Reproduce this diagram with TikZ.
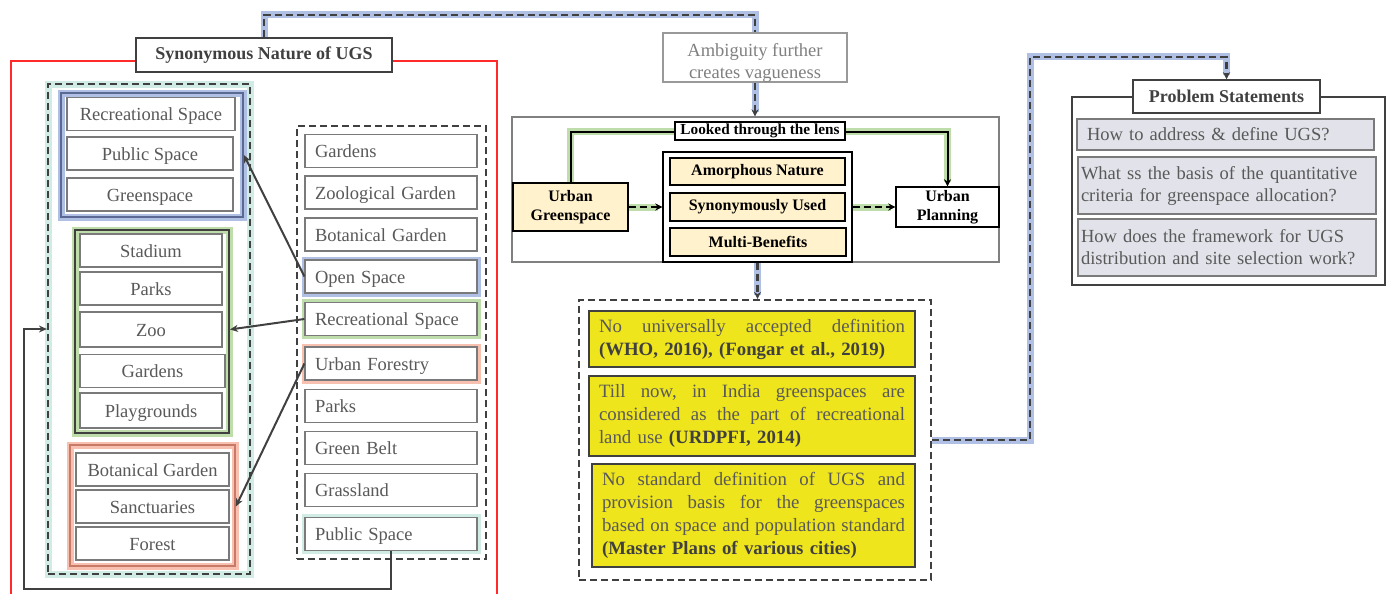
\documentclass[tikz,border=0pt]{standalone}
\usepackage{fontspec}
\setmainfont{Liberation Serif}
\usetikzlibrary{arrows.meta}
\definecolor{txt}{HTML}{595959}
\definecolor{dgray}{HTML}{404040}
\definecolor{itemc}{HTML}{7A7A7A}
\definecolor{redc}{HTML}{FF2B2B}
\definecolor{blueglow}{HTML}{8EA5DA}
\definecolor{greenglow}{HTML}{A3CF86}
\definecolor{redglow}{HTML}{F3A58E}
\definecolor{tealglow}{HTML}{BDE3DA}
\definecolor{lyellow}{HTML}{FFF2CC}
\definecolor{yelfill}{HTML}{EFE51C}
\definecolor{qfill}{HTML}{E2E3EA}
\definecolor{ambtxt}{HTML}{808080}
\definecolor{bluebord}{HTML}{5A6894}
\definecolor{redbord}{HTML}{C97A66}
\newcommand\fsz[2]{\fontsize{#1}{#2}\selectfont}
\newcommand\jl[2]{\leavevmode\hbox to #1{#2}}
\begin{document}
\begin{tikzpicture}[x=1pt,y=-1pt,
  item/.style={draw=itemc, line width=1.1pt, fill=white, text=txt, font=\fsz{18.5}{22}, inner sep=0pt, minimum height=33pt, text height=13pt, text depth=0pt},
  litem/.style={item, minimum width=#1},
  ritem/.style={item, text width=152pt, align=left, inner xsep=10pt},
  grp/.style={draw=#1, line width=1.8pt},
  glow/.style={preaction={draw=#1, line width=7pt, draw opacity=0.7, solid}},
  dbox/.style={draw=dgray, line width=2.2pt, dash pattern=on 7pt off 4pt},
  conn/.style={draw=dgray, line width=2pt, -{Stealth[length=8pt,width=7pt]}},
  dline/.style={draw=dgray, line width=2.4pt, dash pattern=on 7pt off 4pt},
  dconn/.style={dline, -{Stealth[length=7pt,width=7pt]}},
  ybox/.style={draw=dgray, line width=1.1pt, fill=yelfill, text=txt, font=\fsz{18.8}{23}, align=left, inner sep=0pt},
  mbox/.style={draw=black, line width=1.4pt, fill=lyellow, font=\bfseries\fsz{16}{19}, inner sep=0pt},
  qbox/.style={draw=itemc, line width=1.1pt, fill=qfill, text=txt, font=\fsz{18.5}{22}, align=left, inner ysep=0pt, anchor=center}
]
\useasboundingbox (0,0) rectangle (1389,594);

% ---------------- left part ----------------
\draw[redc, line width=1.3pt] (11,594) -- (11,61) -- (497,61) -- (497,594);
\node[draw=dgray, line width=1.5pt, fill=white, text=dgray, font=\bfseries\fsz{18}{22}, minimum width=256pt, minimum height=34pt, inner sep=0pt] (title) at (264,55) {Synonymous Nature of UGS};

\node[dbox, glow=tealglow, minimum width=202pt, minimum height=490pt] (outer) at (149,329) {};
\node[grp=bluebord, glow=blueglow, minimum width=182pt, minimum height=124pt] (bgrp) at (152,155) {};
\node[grp=dgray, glow=greenglow, minimum width=154pt, minimum height=203pt] (ggrp) at (152,331.5) {};
\node[grp=redbord, glow=redglow, minimum width=165pt, minimum height=121pt] (rgrp) at (152.5,505.5) {};

\node[litem=168pt] (rs1) at (151,114) {Recreational Space};
\node[litem=166pt] (ps1) at (150,153.5) {Public Space};
\node[litem=166pt] (gs1) at (150,194.5) {Greenspace};

\node[litem=142pt] (stad) at (151,250.5) {Stadium};
\node[litem=142pt] (parks1) at (151,288.5) {Parks};
\node[litem=142pt, minimum height=35pt] (zoo) at (151,329.5) {Zoo};
\node[litem=145pt] (gard1) at (152.5,371) {Gardens};
\node[litem=142pt, minimum height=35pt] (play) at (151,410.5) {Playgrounds};

\node[litem=153pt] (bot1) at (152.5,469.5) {Botanical Garden};
\node[litem=153pt] (sanct) at (152.5,506.5) {Sanctuaries};
\node[litem=153pt] (forest) at (152.5,543.5) {Forest};

\node[dbox, minimum width=189pt, minimum height=433pt] (rbox) at (391.5,342.5) {};
\node[ritem] (r-gard) at (391,151) {Gardens};
\node[ritem] (r-zoo) at (391,192.5) {Zoological Garden};
\node[ritem] (r-bot) at (391,234.5) {Botanical Garden};
\node[ritem, glow=blueglow] (r-open) at (391,276.5) {Open Space};
\node[ritem, glow=greenglow] (r-rec) at (391,319) {Recreational Space};
\node[ritem, glow=redglow] (r-urb) at (391,363.5) {Urban Forestry};
\node[ritem] (r-parks) at (391,406) {Parks};
\node[ritem] (r-belt) at (391,448) {Green Belt};
\node[ritem] (r-grass) at (391,490) {Grassland};
\node[ritem, glow=tealglow] (r-pub) at (391,534) {Public Space};

\draw[conn] (r-open.west) -- (bgrp.east);
\draw[conn] (r-rec.west) -- (zoo.east -| ggrp.east);
\draw[conn] (r-urb.west) -- (sanct.east -| rgrp.east);
\coordinate (lb) at (24,589);
\draw[conn] (r-pub.south) |- (lb) |- (outer.west);

% ---------------- middle part ----------------
\node[draw=ambtxt!80, line width=1.1pt, fill=white, minimum width=184pt, minimum height=49pt, inner sep=0pt] (amb) at (755,57.5) {};
\node[text=ambtxt, font=\fsz{18.5}{22}, align=center, inner sep=0pt] (ambt) at (755,63) {Ambiguity further\\creates vagueness};
\coordinate (tc) at (264,15);
\draw[dline, glow=blueglow] (title.north) |- (tc) -| (amb.north);

\node[draw=gray, line width=1.1pt, minimum width=487pt, minimum height=145pt] (mframe) at (755.5,189.5) {};
\draw[dconn, glow=blueglow] (amb.south) -- (amb.south |- mframe.north);

\node[mbox] (ug) at (570.5,207) [minimum width=115pt, minimum height=48pt, align=center] {Urban\\Greenspace};
\node[draw=black, line width=1.4pt, fill=white, font=\bfseries\fsz{16}{19}, minimum width=103pt, minimum height=40pt, inner sep=0pt, align=center] (up) at (947.5,207) {Urban\\Planning};

\draw[black, line width=2pt, glow=greenglow] (ug.north) |- (760,131.5);
\draw[black, line width=2pt, glow=greenglow, -{Stealth[length=7pt,width=7pt]}] (760,131.5) -| (up.north);
\node[draw=black, line width=1.2pt, fill=white, font=\bfseries\fsz{15.3}{17}, minimum width=170pt, minimum height=18pt, inner sep=0pt] (lens) at (760,131) {Looked through the lens};

\node[draw=black, line width=1.4pt, fill=white, minimum width=189pt, minimum height=110pt] (cbox) at (757.5,207) {};
\node[mbox, minimum width=175pt, minimum height=27pt] (amor) at (757.5,171.5) {Amorphous Nature};
\node[mbox, minimum width=175pt, minimum height=28pt] (syn) at (757.5,207) {Synonymously Used};
\node[mbox, minimum width=176pt, minimum height=28pt] (multi) at (758,242) {Multi-Benefits};

\draw[dconn, black, glow=greenglow] (ug.east) -- (cbox.west);
\draw[dconn, black, glow=greenglow] (cbox.east) -- (up.west);

\node[dbox, minimum width=352pt, minimum height=280pt] (dbx) at (755,440) {};
\draw[dconn, glow=blueglow] (cbox.south) -- (cbox.south |- dbx.north);

\node[ybox, text width=306pt, minimum width=326pt, minimum height=56pt] (y1) at (752,339) {%
\jl{306pt}{No\hfill universally\hfill accepted\hfill definition}\\
\textbf{\color{dgray}(WHO, 2016), (Fongar et al., 2019)}};
\node[ybox, text width=306pt, minimum width=326pt, minimum height=80pt] (y2) at (752,416) {%
\jl{306pt}{Till\hfill now,\hfill in\hfill India\hfill greenspaces\hfill are}\\
\jl{306pt}{considered\hfill as\hfill the\hfill part\hfill of\hfill recreational}\\
land use \textbf{\color{dgray}(URDPFI, 2014)}};
\node[ybox, text width=303pt, minimum width=323pt, minimum height=103pt] (y3) at (753.5,515.5) {%
\jl{303pt}{No\hfill standard\hfill definition\hfill of\hfill UGS\hfill and}\\
\jl{303pt}{provision\hfill basis\hfill for\hfill the\hfill greenspaces}\\
\jl{303pt}{based\hfill on\hfill space\hfill and\hfill population\hfill standard}\\
\textbf{\color{dgray}(Master Plans of various cities)}};

% ---------------- right part ----------------
\node[draw=dgray, line width=2pt, minimum width=313pt, minimum height=188pt] (psout) at (1228.5,191) {};
\node[draw=dgray, line width=1.5pt, fill=white, text=dgray, font=\bfseries\fsz{18}{22}, minimum width=187pt, minimum height=33pt, inner sep=0pt] (pst) at (1226.5,96.5) {Problem Statements};
\coordinate (rc) at (1030,57);
\draw[dconn, glow=blueglow] (dbx.east) -| (rc) -| (pst.north);

\node[qbox, text width=281pt, inner xsep=8pt, minimum height=31pt] (q1) at (1225.5,134.5) {\hspace*{2pt}How to address \& define UGS?};
\node[qbox, text width=292pt, inner xsep=3pt, minimum height=57pt] (q2) at (1227,185.5) {What ss the basis of the quantitative\\criteria for greenspace allocation?};
\node[qbox, text width=292pt, inner xsep=3pt, minimum height=57pt] (q3) at (1227,247.5) {How does the framework for UGS\\distribution and site selection work?};
\end{tikzpicture}
\end{document}
